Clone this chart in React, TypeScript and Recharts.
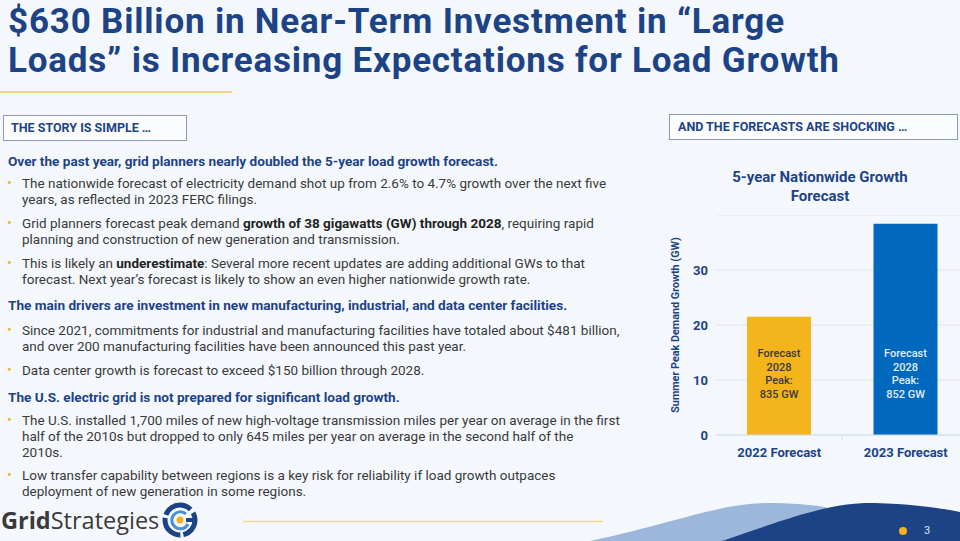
import React from "react";
import { BarChart, Bar, XAxis, YAxis, CartesianGrid, Cell, LabelList } from "recharts";

// chart values
const categories = ["2022 Forecast", "2023 Forecast"];
const growthGW = [21.5, 38.4];
const peakGW = ["835 GW", "852 GW"];
const innerLines = ["Forecast", "2028", "Peak:"];
const yTicks = [0, 10, 20, 30];
const barColors = ["#f4b41c", "#0069bd"];
const innerTextColors = ["#3a3a3a", "#e3ecf8"];

const data = categories.map((name, i) => ({ name, growth: growthGW[i], peak: peakGW[i] }));

const NAVY = "#1d4387";
const BODY = "#3a3a3a";
const GOLD = "#f3b21f";
const FONT = "Roboto, 'Noto Sans', sans-serif";

const XTick = (props: any) => {
  const { x, y, payload } = props;
  return (
    <g>
      <line x1={x + 63} y1={y - 8} x2={x + 63} y2={y - 2} stroke="#d3deee" />
      <text x={x} y={y} dy={14} textAnchor="middle" fill={NAVY} fontSize={13} fontWeight={700} fontFamily={FONT}>
        {payload.value}
      </text>
    </g>
  );
};

const InnerLabel = (props: any) => {
  const { x, y, width, height, index } = props;
  const bottom = y + height;
  const cx = x + width / 2;
  const lines = [...innerLines, peakGW[index]];
  return (
    <text textAnchor="middle" fill={innerTextColors[index]} fontSize={11} fontWeight={500} fontFamily={FONT}>
      {lines.map((t, i) => (
        <tspan key={i} x={cx} y={bottom - 78 + i * 13.6}>
          {t}
        </tspan>
      ))}
    </text>
  );
};

const Bullet = ({ top, children }: { top: number; children: React.ReactNode }) => (
  <div style={{ position: "absolute", left: 0, top, whiteSpace: "nowrap" }}>
    <span style={{ position: "absolute", left: 7, top: 0, color: GOLD, fontSize: 14 }}>•</span>
    <div style={{ marginLeft: 22, fontSize: 13.5, color: BODY }}>{children}</div>
  </div>
);

const Heading = ({ top, children }: { top: number; children: React.ReactNode }) => (
  <div style={{ position: "absolute", left: 8, top, whiteSpace: "nowrap", fontSize: 13.6, fontWeight: 700, color: NAVY }}>
    {children}
  </div>
);

export default function App() {
  return (
    <div
      style={{
        position: "absolute",
        left: 0,
        top: 0,
        width: 960,
        height: 541,
        overflow: "hidden",
        background: "#f4f8fd",
        fontFamily: FONT,
        lineHeight: "16px",
      }}
    >
      <div style={{ position: "absolute", left: 8, top: 2, fontSize: 35, letterSpacing: 0.8, lineHeight: "39px", fontWeight: 700, color: NAVY, whiteSpace: "nowrap" }}>
        $630 Billion in Near-Term Investment in “Large
        <br />
        Loads” is Increasing Expectations for Load Growth
      </div>
      <div style={{ position: "absolute", left: 0, top: 91, width: 232, height: 2, background: "#f5d48a" }} />

      <div style={{ position: "absolute", left: 3, top: 115, width: 182, height: 24, border: "1.5px solid #8b9bbd", background: "#fbfcfe", boxSizing: "content-box" }}>
        <div style={{ position: "absolute", left: 7, top: 4, fontSize: 12.5, fontWeight: 700, color: NAVY, whiteSpace: "nowrap" }}>THE STORY IS SIMPLE …</div>
      </div>
      <div style={{ position: "absolute", left: 669, top: 114, width: 287, height: 24, border: "1.5px solid #8b9bbd", background: "#fbfcfe", boxSizing: "content-box" }}>
        <div style={{ position: "absolute", left: 8, top: 4, fontSize: 12.5, fontWeight: 700, color: NAVY, whiteSpace: "nowrap" }}>AND THE FORECASTS ARE SHOCKING …</div>
      </div>

      <Heading top={153}>Over the past year, grid planners nearly doubled the 5-year load growth forecast.</Heading>
      <Bullet top={175}>
        The nationwide forecast of electricity demand shot up from 2.6% to 4.7% growth over the next five
        <br />
        years, as reflected in 2023 FERC filings.
      </Bullet>
      <Bullet top={215}>
        Grid planners forecast peak demand <b style={{ color: "#222" }}>growth of 38 gigawatts (GW) through 2028</b>, requiring rapid
        <br />
        planning and construction of new generation and transmission.
      </Bullet>
      <Bullet top={255}>
        This is likely an <b style={{ color: "#222" }}>underestimate</b>: Several more recent updates are adding additional GWs to that
        <br />
        forecast. Next year’s forecast is likely to show an even higher nationwide growth rate.
      </Bullet>
      <Heading top={297}>The main drivers are investment in new manufacturing, industrial, and data center facilities.</Heading>
      <Bullet top={322}>
        Since 2021, commitments for industrial and manufacturing facilities have totaled about $481 billion,
        <br />
        and over 200 manufacturing facilities have been announced this past year.
      </Bullet>
      <Bullet top={362}>Data center growth is forecast to exceed $150 billion through 2028.</Bullet>
      <Heading top={389}>The U.S. electric grid is not prepared for significant load growth.</Heading>
      <Bullet top={412}>
        The U.S. installed 1,700 miles of new high-voltage transmission miles per year on average in the first
        <br />
        half of the 2010s but dropped to only 645 miles per year on average in the second half of the
        <br />
        2010s.
      </Bullet>
      <Bullet top={467}>
        Low transfer capability between regions is a key risk for reliability if load growth outpaces
        <br />
        deployment of new generation in some regions.
      </Bullet>

      <div style={{ position: "absolute", left: 660, top: 168, width: 320, textAlign: "center", fontSize: 15, lineHeight: "19px", fontWeight: 700, color: NAVY }}>
        5-year Nationwide Growth
        <br />
        Forecast
      </div>

      <div style={{ position: "absolute", left: 660, top: 215 }}>
        <BarChart width={309} height={250} data={data} margin={{ top: 0, right: 0, bottom: 0, left: 0 }}>
          <CartesianGrid vertical={false} stroke="#dce5f2" />
          <XAxis
            dataKey="name"
            height={30}
            axisLine={{ stroke: "#d3deee" }}
            tickLine={false}
            tick={<XTick />}
            interval={0}
          />
          <YAxis
            width={56}
            domain={[0, 40]}
            ticks={yTicks}
            axisLine={false}
            tickLine={false}
            tick={{ fill: NAVY, fontSize: 13, fontWeight: 700, fontFamily: FONT }}
            label={{
              value: "Summer Peak Demand Growth (GW)",
              angle: -90,
              position: "insideLeft",
              offset: 15,
              fill: NAVY,
              fontSize: 10.8,
              fontWeight: 700,
              fontFamily: FONT,
              style: { textAnchor: "middle" },
            }}
          />
          <Bar dataKey="growth" barSize={64} isAnimationActive={false}>
            {data.map((_, i) => (
              <Cell key={i} fill={barColors[i]} />
            ))}
            <LabelList dataKey="peak" content={<InnerLabel />} />
          </Bar>
        </BarChart>
      </div>

      <div style={{ position: "absolute", left: 1, top: 505, fontSize: 23.5, lineHeight: "30px", color: "#3a3a3a", fontFamily: "'Open Sans', sans-serif", whiteSpace: "nowrap" }}>
        <span style={{ fontWeight: 700 }}>Grid</span>Strategies
      </div>
      <svg style={{ position: "absolute", left: 0, top: 0 }} width={960} height={541}>
        <g transform="translate(180,520)">
          <circle r={15} fill="none" stroke="#1d4387" strokeWidth={5} strokeDasharray="20 3 26 3 30 4" />
          <path d="M 15 0 L 6 0" stroke="#1d4387" strokeWidth={4} />
          <path d="M 6 -6 A 8.5 8.5 0 1 0 8 4" fill="none" stroke="#4a8fd6" strokeWidth={3} />
          <circle r={3.5} fill={GOLD} />
        </g>
        <line x1={243} y1={521.5} x2={603} y2={521.5} stroke="#f5d78c" strokeWidth={1.5} />
        <path d="M 590 541 C 680 522, 720 502, 775 503 C 830 504, 860 512, 900 541 Z" fill="#9cb6dc" />
        <path d="M 722 541 C 790 518, 830 502, 875 503 C 915 504, 945 509, 960 512 L 960 541 Z" fill="#1d4387" />
        <circle cx={903} cy={531} r={4} fill={GOLD} />
        <text x={927} y={534} fill="#dbe5f4" fontSize={11} fontFamily={FONT} textAnchor="middle">3</text>
      </svg>
    </div>
  );
}
